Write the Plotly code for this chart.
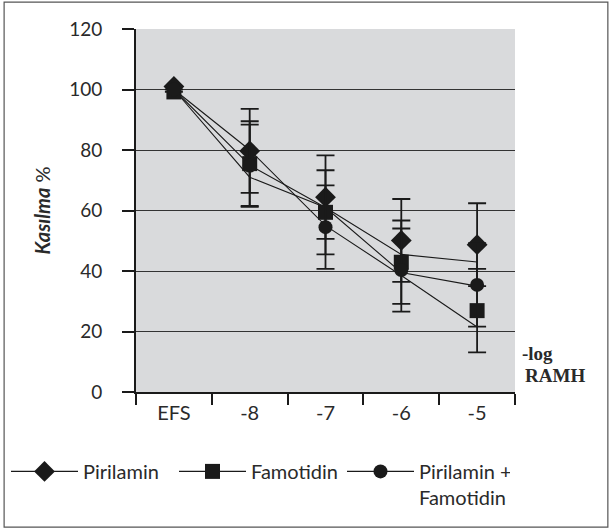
import plotly.graph_objects as go

categories = ["EFS", "-8", "-7", "-6", "-5"]

# marker (mean) values
pirilamin = [101.0, 79.7, 64.4, 50.1, 48.7]
famotidin = [99.2, 75.5, 59.4, 42.9, 26.9]
kombinasyon = [100.0, 74.8, 54.5, 40.3, 35.4]

# error bar half-widths (SEM)
pirilamin_err = [0, 13.9, 13.8, 13.7, 13.7]
famotidin_err = [0, 14.0, 13.9, 13.8, 13.8]
kombinasyon_err = [0, 13.6, 13.8, 13.75, 13.8]

# connecting line values as drawn in the figure
line_a = [100.0, 80.0, 55.0, 38.5, 21.5]
line_b = [100.0, 75.0, 61.0, 45.5, 43.0]
line_c = [100.0, 71.0, 61.0, 39.5, 35.0]

y_ticks = [0, 20, 40, 60, 80, 100, 120]
grid_vals = [20, 40, 60, 80, 100]

names = ["Pirilamin", "Famotidin", "Pirilamin +<br>Famotidin"]
symbols = ["diamond", "square", "circle"]
sizes = [16, 15, 14]

fig = go.Figure()

# invisible overlay axis just for grid lines
fig.add_trace(go.Scatter(x=categories, y=[None]*5, yaxis="y2", showlegend=False,
                         hoverinfo="skip", mode="markers"))

for vals in (line_a, line_b, line_c):
    fig.add_trace(go.Scatter(x=categories, y=vals, mode="lines",
                             line=dict(color="#1a1a1a", width=1.1),
                             showlegend=False, hoverinfo="skip"))

for vals, err, sym, sz in ((pirilamin, pirilamin_err, "diamond", 16),
                           (famotidin, famotidin_err, "square", 15),
                           (kombinasyon, kombinasyon_err, "circle", 14)):
    fig.add_trace(go.Scatter(x=categories, y=vals, mode="markers",
                             marker=dict(symbol=sym, size=sz, color="#1a1a1a"),
                             error_y=dict(type="data", array=err, visible=True,
                                          color="#1a1a1a", thickness=1.8, width=9),
                             showlegend=False))

for name, sym, sz in zip(names, symbols, sizes):
    fig.add_trace(go.Scatter(x=[None], y=[None], mode="lines+markers", name=name,
                             marker=dict(symbol=sym, size=sz, color="#1a1a1a"),
                             line=dict(color="#1a1a1a", width=1.1)))

axis_title_font = dict(family="Liberation Serif, serif", size=19, color="#2a2a2a")

fig.update_layout(
    width=612, height=529,
    margin=dict(l=136, r=97, t=29, b=137, autoexpand=False),
    paper_bgcolor="white",
    plot_bgcolor="#d9dadc",
    font=dict(family="Lato, Open Sans, sans-serif", size=19, color="#2a2a2a"),
    xaxis=dict(type="category", categoryorder="array", categoryarray=categories,
               tickson="boundaries", ticks="outside", ticklen=11, tickwidth=2,
               tickcolor="#1a1a1a", showline=True, linecolor="#1a1a1a", linewidth=2,
               showgrid=False, tickfont=dict(size=20), range=[-0.5, 4.5],
               ticklabelstandoff=2),
    yaxis=dict(range=[0, 120], tickvals=y_ticks, ticks="outside", ticklen=12,
               tickwidth=2, tickcolor="#1a1a1a", showline=True, linecolor="#1a1a1a",
               linewidth=2, showgrid=False, zeroline=False,
               tickfont=dict(size=19), ticklabelstandoff=16,
               title=dict(text="<b><i>Kasılma</i></b> %", standoff=13,
                          font=dict(size=20))),
    yaxis2=dict(range=[0, 120], overlaying="y", tickvals=grid_vals, showgrid=True,
                gridcolor="#333333", gridwidth=1, showticklabels=False, ticks="",
                zeroline=False, showline=False),
    legend=dict(orientation="h", x=-0.343, y=-0.165, xanchor="left", yanchor="top",
                itemwidth=67, valign="top", font=dict(size=20, color="#2a2a2a"),
                entrywidth=86, entrywidthmode="pixels",
                bgcolor="rgba(0,0,0,0)", tracegroupgap=0),
    annotations=[
        dict(text="<b>-log</b>", xref="paper", yref="paper", x=1.014, y=0.106,
             xanchor="left", yanchor="middle", showarrow=False, font=axis_title_font),
        dict(text="<b>RAMH</b>", xref="paper", yref="paper", x=1.022, y=0.046,
             xanchor="left", yanchor="middle", showarrow=False, font=axis_title_font),
    ],
    shapes=[dict(type="rect", xref="paper", yref="paper", x0=-0.348, x1=1.245,
                 y0=-0.372, y1=1.074, line=dict(color="#555555", width=1.2))],
)

fig.write_html("out.html")
